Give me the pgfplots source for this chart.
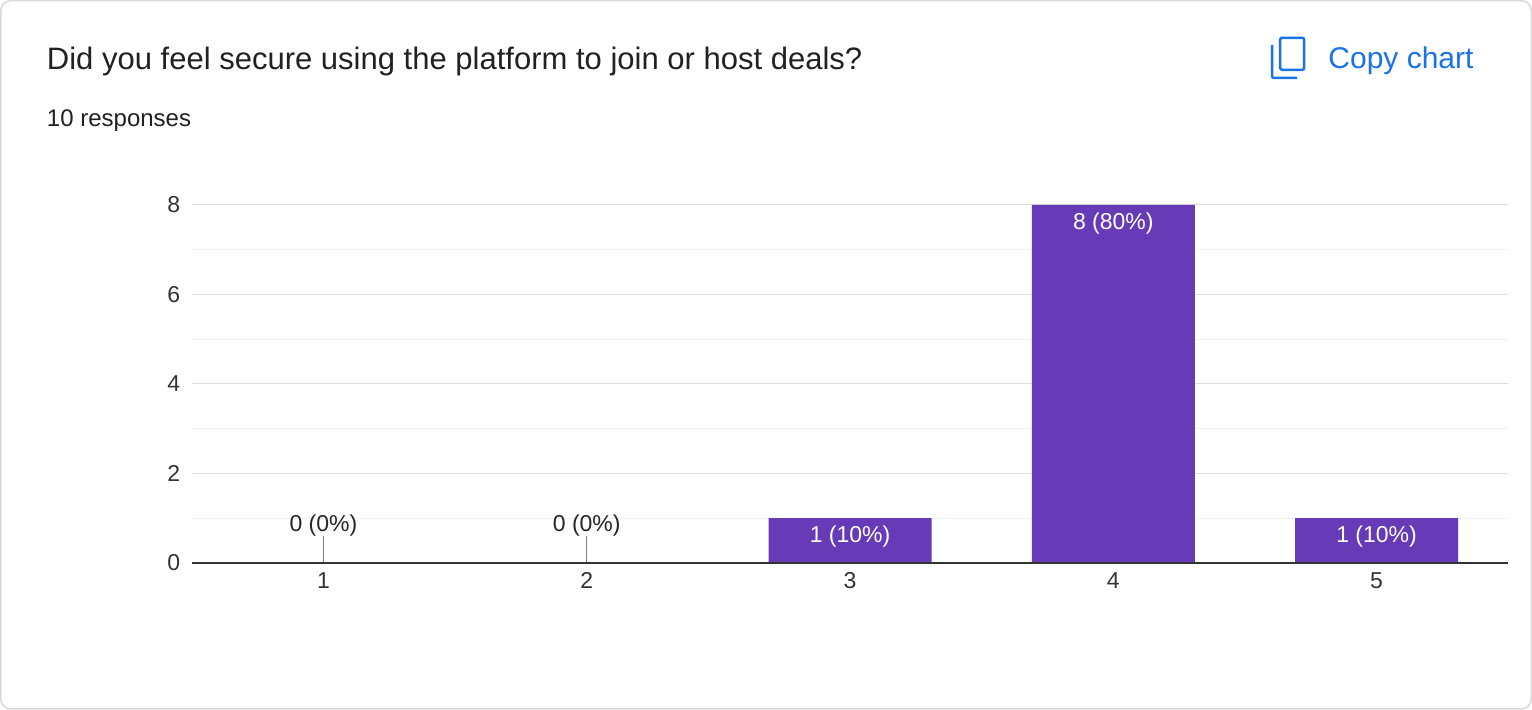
\documentclass[border=0pt]{standalone}
\usepackage{pgfplots}
\pgfplotsset{compat=1.18}
\usepackage{fontspec}
\setmainfont{Liberation Sans}
\definecolor{bar}{HTML}{673AB7}
\definecolor{gblue}{HTML}{1A73E8}
\begin{document}
\begin{tikzpicture}[x=1pt,y=1pt]
\draw[draw=gray!30,line width=1.5pt,rounded corners=10pt,fill=white] (1,1) rectangle (1531,709);
\node[anchor=base west,font=\fontsize{31}{36}\selectfont,text=black!87,inner sep=0pt] at (47,640) {Did you feel secure using the platform to join or host deals?};
\node[anchor=base west,font=\fontsize{24}{28}\selectfont,text=black!87,inner sep=0pt] at (47,583) {10 responses};
\node[anchor=base west,font=\fontsize{30}{34}\selectfont,text=gblue,inner sep=0pt] at (1328,641) {Copy chart};
\draw[gblue,line width=2.5pt,rounded corners=2pt] (1280,672) rectangle (1304,640);
\draw[gblue,line width=2.5pt,rounded corners=1pt] (1272,665) -- (1272,632) -- (1297,632);
\begin{axis}[at={(192pt,147pt)},anchor=south west,scale only axis,width=1316pt,height=358pt,
  xmin=0.5,xmax=5.5,ymin=0,ymax=8,
  axis line style={draw=none},
  axis x line*=bottom,
  xtick={1,2,3,4,5},ytick={0,2,4,6,8},minor ytick={1,3,5,7},
  ymajorgrids,yminorgrids,major grid style={gray!25,line width=1pt},minor grid style={gray!12,line width=1pt},
  tick style={draw=none},
  /pgf/number format/assume math mode=true,
  ticklabel style={font=\fontsize{23}{26}\selectfont,text=black!80},
  xticklabel style={yshift=-6pt},yticklabel style={xshift=-8pt},
  clip=false]
\addplot[draw=none,fill=bar,ybar,bar width=163pt,
  nodes near coords,point meta=explicit symbolic,
  every node near coord/.append style={anchor=north,yshift=-4pt,text=white,font=\fontsize{23}{26}\selectfont}]
  coordinates {(3,1)[1 (10\%)] (4,8)[8 (80\%)] (5,1)[1 (10\%)]};
\addplot[ycomb,gray,line width=1pt,mark=none,
  nodes near coords,point meta=explicit symbolic,
  every node near coord/.append style={anchor=south,yshift=-4pt,text=black!85,font=\fontsize{23}{26}\selectfont}]
  coordinates {(1,0.6)[0 (0\%)] (2,0.6)[0 (0\%)]};
\draw[black!80,line width=1.2pt] (axis cs:0.5,0) -- (axis cs:5.5,0);
\end{axis}
\end{tikzpicture}
\end{document}
